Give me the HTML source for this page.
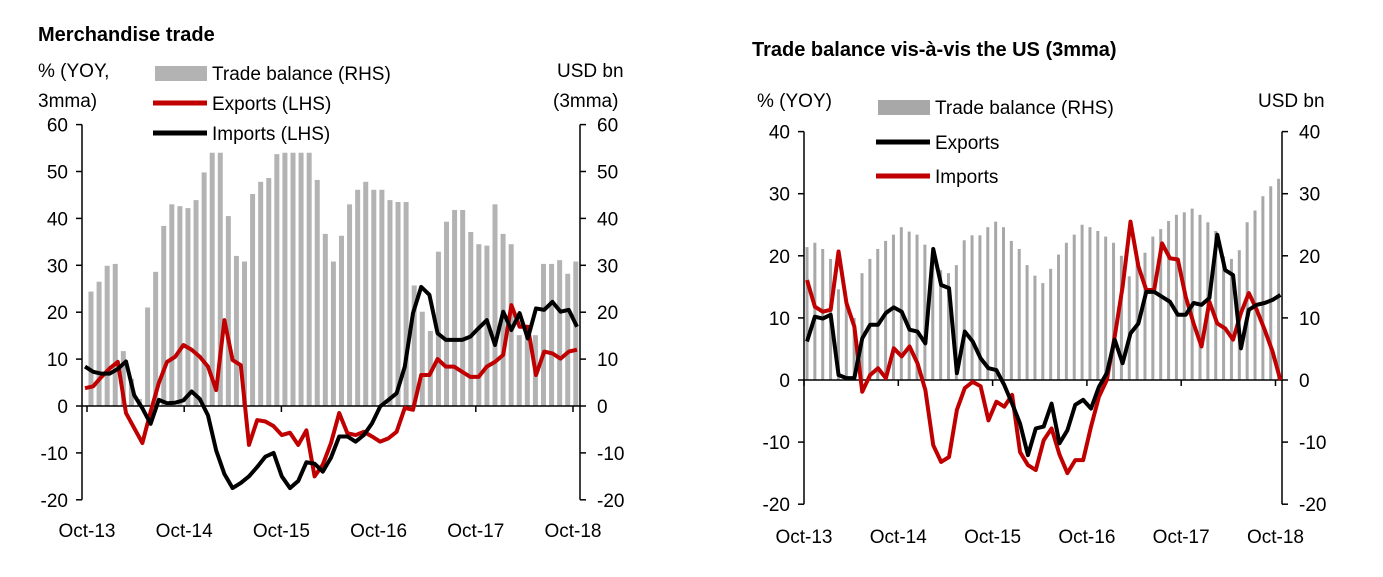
<!DOCTYPE html>
<html><head><meta charset="utf-8"><style>
body{margin:0;background:#fff;}
svg{display:block;font-family:"Liberation Sans",sans-serif;}
</style></head><body>
<svg id="chart" width="1383" height="577" viewBox="0 0 1383 577">
<g id="c1"></g>
<g id="c2"></g>
</svg>
<script>
const xLabels = ["Oct-13","Oct-14","Oct-15","Oct-16","Oct-17","Oct-18"];
const leftTicks = [60,50,40,30,20,10,0,-10,-20];
const rightTicks = [40,30,20,10,0,-10,-20];
const c1Balance = [24.4,26.5,29.9,30.3,11.7,5.8,1.5,21,28.6,38.4,43,42.6,42.2,43.9,49.8,54,54,40.5,32,30.8,45.2,47.8,48.6,53.7,54,54,54,54,48.2,36.7,30.8,36.3,43,46.1,47.8,46.1,46.1,43.9,43.5,43.5,25.7,20.1,16,32.9,39.3,41.8,41.8,37.1,34.5,34.2,43,36.7,34.5,15.1,15.1,15.1,30.3,30.3,31.1,28.2,30.8];
const c1Exports = [3.8,4.2,6.2,8,9.4,-1.5,-4.7,-7.9,-1.2,4.9,9.4,10.5,13,12,10.5,8.4,3.4,18.3,9.8,8.7,-8.3,-3,-3.3,-4.3,-6.2,-5.7,-8.3,-5.2,-15,-12.5,-7.9,-1.5,-5.8,-6.2,-5.5,-6.5,-7.6,-6.9,-5.5,-0.4,-0.8,6.6,6.6,10,8.4,8.4,7.3,6.2,6.2,8.4,9.4,10.9,21.5,16.9,16.9,6.6,11.6,11.2,10.1,11.6,12];
const c1Imports = [8.4,7.3,6.9,6.9,7.9,9.5,2.3,-0.5,-3.8,1.3,0.6,0.7,1.2,3.1,1.5,-2,-9.5,-14.5,-17.5,-16.4,-15,-13,-10.8,-10,-15,-17.5,-16,-12,-12.3,-14,-11,-6.5,-6.5,-7.6,-6.2,-3.7,-0.1,1.3,2.7,8.4,19.8,25.4,23.7,15.5,14.1,14.1,14.1,14.8,16.6,18.3,13,20.1,16.2,19.8,14.4,20.8,20.5,22.2,20.1,20.5,16.9];
const c2Balance = [21.4,22.1,21.1,19.5,14.6,12.7,10,17.2,19.5,21.1,22.4,23.4,24.6,23.9,23.4,21.8,20.7,17.7,17.2,18.5,22.5,23.3,23.3,24.6,25.5,24.6,22.4,21.1,18.5,16.8,15.6,17.9,20.2,22.1,23.4,25,24.6,24,23.1,22.1,20,16.7,19,20.5,23.1,24.3,25.6,26.6,27,27.6,26.6,25.4,24,19.9,19.5,20.9,25.4,27.3,29.6,31.2,32.4];
const c2Exports = [6.2,10.2,9.9,10.5,0.8,0.3,0.3,6.7,8.9,8.9,10.8,11.7,11,8.1,7.8,5.9,21.1,15.3,14.8,1.1,7.8,6.2,3.5,1.9,1.6,-0.8,-3.8,-7,-12.1,-7.8,-7.5,-3.8,-10.2,-8.1,-4,-3.2,-4.6,-1.1,1.1,6.5,2.7,7.5,9.1,14.2,14.2,13.4,12.6,10.5,10.5,12.4,12.1,13.2,23.4,17.7,16.9,5.1,11.3,12.1,12.4,12.9,13.7];
const c2Imports = [16.1,11.8,11,11.3,20.7,12.4,8.6,-1.9,0.8,1.9,0.3,5.1,3.8,5.4,2.7,-1.6,-10.5,-13.2,-12.4,-4.8,-1.3,-0.3,-1,-6.5,-3.5,-4.3,-2.4,-11.6,-13.7,-14.5,-9.7,-7.8,-12,-15,-12.9,-12.9,-7.5,-2.7,0,7,15,25.5,18.3,14.5,14.5,22,19.6,19.4,13.4,9.1,5.4,12.6,9.1,8.3,6.5,10.8,14,11.3,8.1,4.6,0];

const NS="http://www.w3.org/2000/svg";
function mk(parent,tag,attrs,text){const e=document.createElementNS(NS,tag);for(const k in attrs)e.setAttribute(k,attrs[k]);if(text!==undefined)e.textContent=text;parent.appendChild(e);return e;}

function drawChart(g,cfg){
  const y=v=>cfg.y0-(v)*cfg.pp10/10;
  const xl=i=>cfg.lx0+cfg.ldx*i;
  const xb=i=>cfg.bx0+cfg.bdx*i;
  // bars
  cfg.bal.forEach((v,i)=>{
    const r=mk(g,'rect',{x:xb(i)-cfg.bw/2,y:Math.min(y(v),cfg.y0),width:cfg.bw,height:Math.abs(y(v)-cfg.y0),fill:cfg.barFill});
    
    
  });
  // axes
  const top=y(cfg.ticks[0]), bot=y(cfg.ticks[cfg.ticks.length-1]);
  let a=mk(g,'line',{x1:cfg.ax1,x2:cfg.ax1,y1:top,y2:bot,stroke:'#000','stroke-width':1.5});
  
  a=mk(g,'line',{x1:cfg.ax2,x2:cfg.ax2,y1:top,y2:bot,stroke:'#000','stroke-width':1.5});
  
  a=mk(g,'line',{x1:cfg.ax1,x2:cfg.ax2,y1:cfg.y0,y2:cfg.y0,stroke:'#000','stroke-width':1.5});
  
  cfg.ticks.forEach(t=>{
    mk(g,'line',{x1:cfg.ax1-6,x2:cfg.ax1,y1:y(t),y2:y(t),stroke:'#000','stroke-width':1.5});
    mk(g,'line',{x1:cfg.ax2,x2:cfg.ax2+6,y1:y(t),y2:y(t),stroke:'#000','stroke-width':1.5});
    const l=mk(g,'text',{x:cfg.ax1-14,y:y(t)+7,'text-anchor':'end','font-size':19},String(t));
    
    const r=mk(g,'text',{x:cfg.ax2+17,y:y(t)+7,'font-size':19},String(t));
    
  });
  xLabels.forEach((s,k)=>{
    const tx=cfg.tx0+cfg.tdx*k;
    mk(g,'line',{x1:tx,x2:tx,y1:cfg.y0,y2:cfg.y0+6,stroke:'#000','stroke-width':1.5});
    const t=mk(g,'text',{x:tx,y:cfg.xly,'text-anchor':'middle','font-size':19},s);
    
  });
  // lines
  cfg.series.forEach(s=>{
    const p=mk(g,'polyline',{points:s.data.map((v,i)=>xl(i)+','+y(v)).join(' '),fill:'none',stroke:s.color,'stroke-width':4,'stroke-linejoin':'round'});
    
  });
}

drawChart(document.getElementById('c1'),{y0:406,pp10:46.9,lx0:85,ldx:8.2,bx0:91,bdx:8.08,bw:5,barFill:'#b3b3b3',
  ticks:leftTicks,ax1:82,ax2:580,tx0:87,tdx:97.2,xly:537,bal:c1Balance,
  series:[{data:c1Exports,color:'#c00000',name:'exports-line'},{data:c1Imports,color:'#000',name:'imports-line'}]});
drawChart(document.getElementById('c2'),{y0:380,pp10:62.1,lx0:807,ldx:7.89,bx0:807,bdx:7.86,bw:3,barFill:'#a8a8a8',
  ticks:rightTicks,ax1:804,ax2:1282,tx0:804,tdx:94.3,xly:543,bal:c2Balance,
  series:[{data:c2Imports,color:'#c00000',name:'imports-line'},{data:c2Exports,color:'#000',name:'exports-line'}]});
</script>
<svg style="position:absolute;left:0;top:0" width="1383" height="577" font-family="Liberation Sans, sans-serif">
<text x="38" y="41" font-size="20" font-weight="bold">Merchandise trade</text>
<text x="38" y="77" font-size="19">% (YOY,</text>
<text x="38" y="107" font-size="19">3mma)</text>
<text x="557" y="77" font-size="19">USD bn</text>
<text x="553" y="107" font-size="19">(3mma)</text>
<rect x="155" y="66" width="52" height="15" fill="#b3b3b3"/>
<text x="212" y="80" font-size="19">Trade balance (RHS)</text>
<line x1="153" x2="207" y1="103" y2="103" stroke="#c00000" stroke-width="5"/>
<text x="212" y="110" font-size="19">Exports (LHS)</text>
<line x1="153" x2="207" y1="133" y2="133" stroke="#000" stroke-width="5"/>
<text x="212" y="140" font-size="19">Imports (LHS)</text>

<text x="752" y="56" font-size="20" font-weight="bold">Trade balance vis-à-vis the US (3mma)</text>
<text x="757" y="107" font-size="19">% (YOY)</text>
<text x="1258" y="107" font-size="19">USD bn</text>
<rect x="878" y="100" width="52" height="15" fill="#a8a8a8"/>
<text x="935" y="114" font-size="19">Trade balance (RHS)</text>
<line x1="876" x2="930" y1="142" y2="142" stroke="#000" stroke-width="5"/>
<text x="935" y="149" font-size="19">Exports</text>
<line x1="876" x2="930" y1="176" y2="176" stroke="#c00000" stroke-width="5"/>
<text x="935" y="183" font-size="19">Imports</text>
</svg>
</body></html>
